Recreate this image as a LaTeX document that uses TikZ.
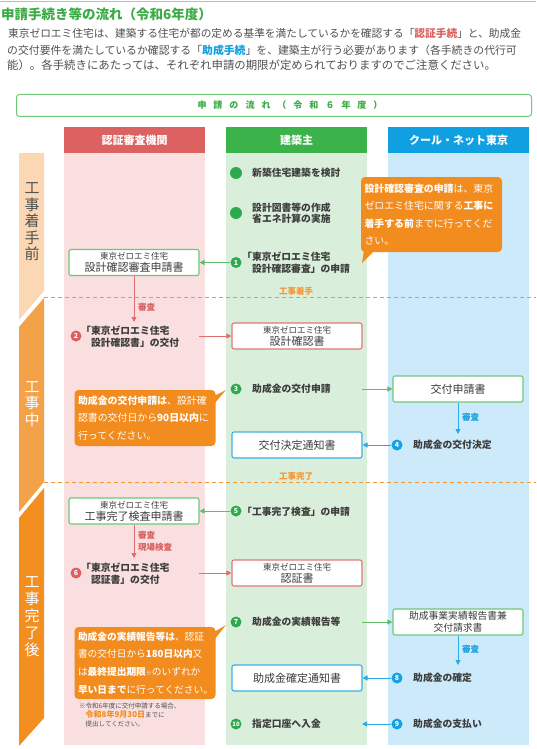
\documentclass[tikz,border=0pt]{standalone}
\usepackage{fontspec}
\setmainfont{Noto Sans CJK JP}
\usetikzlibrary{arrows.meta}
\definecolor{titlegreen}{RGB}{58,172,68}
\definecolor{topline}{RGB}{150,215,150}
\definecolor{bodytxt}{RGB}{80,80,80}
\definecolor{itemtxt}{RGB}{60,60,60}
\definecolor{redhd}{RGB}{220,98,98}
\definecolor{pinkbg}{RGB}{249,223,223}
\definecolor{greenhd}{RGB}{60,178,74}
\definecolor{greenbg}{RGB}{218,239,219}
\definecolor{bluehd}{RGB}{16,160,225}
\definecolor{bluebg}{RGB}{205,234,250}
\definecolor{calloutor}{RGB}{243,140,30}
\definecolor{stageA}{RGB}{251,215,180}
\definecolor{stageB}{RGB}{244,162,74}
\definecolor{stageC}{RGB}{243,143,32}
\definecolor{dashor}{RGB}{245,150,50}
\definecolor{boxgreen}{RGB}{110,200,120}
\definecolor{boxred}{RGB}{225,120,120}
\definecolor{boxblue}{RGB}{60,175,230}
\definecolor{arrgreen}{RGB}{95,190,110}
\definecolor{arrred}{RGB}{225,110,110}
\definecolor{arrblue}{RGB}{40,170,230}
\definecolor{numgreen}{RGB}{45,170,75}
\definecolor{numred}{RGB}{220,95,95}
\definecolor{numblue}{RGB}{20,160,225}
\definecolor{lblred}{RGB}{215,95,95}
\definecolor{lblblue}{RGB}{25,160,225}
\newcommand{\myfs}[2]{\fontsize{#1}{#2}\selectfont}
\newcommand{\gp}{\hspace{7pt}}
\begin{document}
\begin{tikzpicture}[x=1pt,y=-1pt,
  colhead/.style={rectangle, minimum width=141, minimum height=26, inner sep=0, text=white, font=\bfseries\myfs{11}{12}},
  item/.style={anchor=west, inner sep=0, text=itemtxt, font=\bfseries\myfs{9.8}{12}, align=left},
  dotc/.style={circle, fill=numgreen, minimum size=12, inner sep=0},
  numc/.style={circle, minimum size=11, inner sep=0, text=white, font=\bfseries\myfs{7}{7}},
  docbox/.style={rectangle, rounded corners=2pt, fill=white, minimum width=130, minimum height=26, inner sep=1, line width=1.1pt, align=center, text=itemtxt},
  callout/.style={rectangle, rounded corners=4pt, fill=calloutor, text=white, minimum width=141, inner sep=0, align=left, text width=134, font=\myfs{9.9}{17.5}},
  arr/.style={-{Triangle[length=5pt,width=5pt]}, line width=0.9pt},
  stagetxt/.style={inner sep=0, align=center, font=\myfs{15}{16.5}},
  stagelbl/.style={inner sep=0, text=dashor, font=\bfseries\myfs{8.5}{9}},
  sublbl/.style={anchor=west, inner sep=0, font=\bfseries\myfs{8.5}{12}, align=left},
  dashline/.style={draw=dashor, line width=0.9pt, dash pattern=on 4pt off 3pt}
]
\useasboundingbox (0,0) rectangle (536,749);
\fill[white] (0,0) rectangle (536,749);

% top
\draw[topline, line width=1pt] (0,1.5) -- (536,1.5);
\node[anchor=west, inner sep=0, text=titlegreen, font=\bfseries\myfs{13.5}{15}] (title) at (1,14) {申請手続き等の流れ（令和6年度）};
\node[anchor=west, inner sep=0, text=bodytxt, font=\myfs{10.7}{12}] (p1) at (8,33) {東京ゼロエミ住宅は、建築する住宅が都の定める基準を満たしているかを確認する「{\bfseries\color{redhd}認証手続}」と、助成金};
\node[anchor=west, inner sep=0, text=bodytxt, font=\myfs{10.85}{12}] (p2) at (7,50) {の交付要件を満たしているか確認する「{\bfseries\color{bluehd}助成手続}」を、建築主が行う必要があります（各手続きの代行可};
\node[anchor=west, inner sep=0, text=bodytxt, font=\myfs{11.4}{12}] (p3) at (7,65) {能）。各手続きにあたっては、それぞれ申請の期限が定められておりますのでご注意ください。};

% flow header
\node[draw=boxgreen, line width=1pt, rounded corners=3pt, minimum width=515, minimum height=22, inner sep=0, anchor=north west] (flowbox) at (16,94) {};
\node[inner sep=0, text=titlegreen, font=\bfseries\myfs{9}{10}] (flowtxt) at (290,105) {申\gp 請\gp の\gp 流\gp れ\gp （\gp 令\gp 和\gp ６\gp 年\gp 度\gp ）};

% columns
\fill[pinkbg] (64,153) rectangle (205,745);
\fill[greenbg] (226,153) rectangle (367,745);
\fill[bluebg] (388,153) rectangle (529,745);
\node[colhead, fill=redhd] (h1) at (134.5,140) {認証審査機関};
\node[colhead, fill=greenhd] (h2) at (296.5,140) {建築主};
\node[colhead, fill=bluehd] (h3) at (458.5,140) {クール・ネット東京};

% stage bar
\fill[stageA] (19,153) -- (44,153) -- (44,291) -- (19,320) -- cycle;
\fill[stageB] (19,327) -- (44,298) -- (44,482) -- (19,512) -- cycle;
\fill[stageC] (19,518) -- (44,488) -- (44,718) -- (19,746) -- cycle;
\node[stagetxt, text=bodytxt] (sg1) at (32,222) {工\\事\\着\\手\\前};
\node[stagetxt, text=white] (sg2) at (32,404) {工\\事\\中};
\node[stagetxt, text=white, font=\myfs{15}{17}] (sg3) at (32,617) {工\\事\\完\\了\\後};

% dashed milestones
\draw[dashline] (44,297) -- (536,297);
\node[stagelbl] (ms1) at (296,291) {工事着手};
\draw[dashline] (44,482) -- (536,482);
\node[stagelbl] (ms2) at (296,476) {工事完了};

% ---- before construction
\node[dotc] (d1) at (236,173) {};
\node[item] (t1) at (252,173) {新築住宅建築を検討};
\node[dotc] (d2) at (236,213) {};
\node[item, font=\bfseries\myfs{9.8}{11.5}] (t2) at (252,213) {設計図書等の作成\\省エネ計算の実施};
\node[numc, fill=numgreen] (n1) at (236,262.5) {1};
\node[item] (t3) at (242,263) {「東京ゼロエミ住宅\\\hspace*{1em}設計確認審査」の申請};
\node[docbox, draw=boxgreen] (b1) at (134,262.5) {{\myfs{8.5}{11}東京ゼロエミ住宅}\\{\myfs{11}{12}設計確認審査申請書}};
\draw[arr, arrgreen] (n1) -- (b1);

\node[callout, minimum height=75] (co1) at (431.5,214.5) {{\bfseries 設計確認審査の申請}は、東京\\ゼロエミ住宅に関する{\bfseries 工事に}\\{\bfseries 着手する前}までに行ってくだ\\さい。};
\fill[calloutor] (364,250) -- (362,263) -- (375,250) -- cycle;

% ---- during construction
\coordinate (c1) at (134,322);
\draw[arr, arrred] (b1) -- (c1);
\node[sublbl, text=lblred] (r1) at (138,307) {審査};
\node[numc, fill=numred] (n2) at (76,336) {2};
\node[item] (t4) at (81,337) {「東京ゼロエミ住宅\\\hspace*{1em}設計確認書」の交付};
\node[docbox, draw=boxred] (b2) at (297,336) {{\myfs{8.5}{11}東京ゼロエミ住宅}\\{\myfs{11}{12}設計確認書}};
\coordinate (s2) at (199,336);
\draw[arr, arrred] (s2) -- (b2);

\node[numc, fill=numgreen] (n3) at (236,389) {3};
\node[item] (t5) at (252,389) {助成金の交付申請};
\node[docbox, draw=boxgreen, font=\myfs{11}{12}] (b3) at (458,389) {交付申請書};
\coordinate (s3) at (362,389);
\draw[arr, arrgreen] (s3) -- (b3);

\coordinate (c2) at (458,434);
\draw[arr, arrblue] (b3) -- (c2);
\node[sublbl, text=lblblue] (r2) at (462,417) {審査};
\node[numc, fill=numblue] (n4) at (397,445) {4};
\node[item] (t6) at (413,445) {助成金の交付決定};
\node[docbox, draw=boxblue, font=\myfs{11}{12}] (b4) at (297,445) {交付決定通知書};
\draw[arr, arrblue] (n4) -- (b4);

\node[callout, minimum height=56] (co2) at (145,418) {{\bfseries 助成金の交付申請は}、設計確\\認書の交付日から{\bfseries 90日以内}に\\行ってください。};
\fill[calloutor] (214,396) -- (226,390) -- (214,404) -- cycle;

% ---- after completion
\node[numc, fill=numgreen] (n5) at (236,511) {5};
\node[item] (t7) at (242,512) {「工事完了検査」の申請};
\node[docbox, draw=boxgreen] (b5) at (134,511) {{\myfs{8.5}{11}東京ゼロエミ住宅}\\{\myfs{11}{12}工事完了検査申請書}};
\draw[arr, arrgreen] (n5) -- (b5);
\coordinate (c3) at (134,558);
\draw[arr, arrred] (b5) -- (c3);
\node[sublbl, text=lblred] (r3) at (138,541) {審査\\現場検査};
\node[numc, fill=numred] (n6) at (76,573) {6};
\node[item] (t8) at (81,574) {「東京ゼロエミ住宅\\\hspace*{1em}認証書」の交付};
\node[docbox, draw=boxred] (b6) at (297,573) {{\myfs{8.5}{11}東京ゼロエミ住宅}\\{\myfs{11}{12}認証書}};
\coordinate (s6) at (199,573);
\draw[arr, arrred] (s6) -- (b6);

\node[numc, fill=numgreen] (n7) at (236,622) {7};
\node[item] (t9) at (252,622) {助成金の実績報告等};
\node[docbox, draw=boxgreen, font=\myfs{9.8}{12}] (b7) at (458,622) {助成事業実績報告書兼\\交付請求書};
\coordinate (s7) at (362,622);
\draw[arr, arrgreen] (s7) -- (b7);
\coordinate (c4) at (458,665);
\draw[arr, arrblue] (b7) -- (c4);
\node[sublbl, text=lblblue] (r4) at (462,649) {審査};

\node[numc, fill=numblue] (n8) at (397,678) {8};
\node[item] (t10) at (413,678) {助成金の確定};
\node[docbox, draw=boxblue, font=\myfs{11}{12}] (b8) at (297,678) {助成金確定通知書};
\draw[arr, arrblue] (n8) -- (b8);

\node[numc, fill=numblue] (n9) at (397,724) {9};
\node[item] (t11) at (413,724) {助成金の支払い};
\coordinate (e9) at (362,724);
\draw[arr, arrblue] (n9) -- (e9);
\node[numc, fill=numgreen, font=\bfseries\myfs{6}{6}] (n10) at (236,724) {10};
\node[item] (t12) at (252,724) {指定口座へ入金};

\node[callout, minimum height=72, font=\myfs{9.7}{17.6}] (co3) at (145,663) {{\bfseries 助成金の実績報告等は}、認証\\書の交付日から{\bfseries 180日以内}又\\は{\bfseries 最終提出期限}{\myfs{6}{6}※}のいずれか\\{\bfseries 早い日まで}に行ってください。};
\fill[calloutor] (214,632) -- (226,625) -- (214,640) -- cycle;

\node[anchor=north west, inner sep=0, text=bodytxt, font=\myfs{6.5}{9}, align=left] (note) at (79,703) {※令和6年度に交付申請する場合、\\\hspace*{1em}{\bfseries\myfs{8}{9}\color{calloutor}令和8年9月30日}までに\\\hspace*{1em}提出してください。};
\end{tikzpicture}
\end{document}
